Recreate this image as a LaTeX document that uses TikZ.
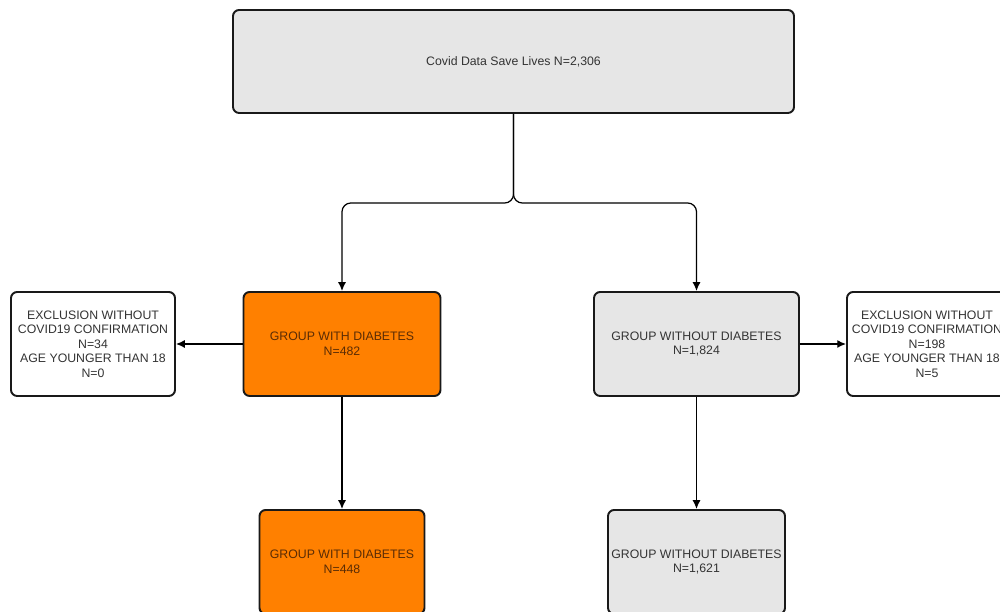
\documentclass[tikz,border=0pt]{standalone}
\usepackage{fontspec}
\setmainfont{Liberation Sans}
\usetikzlibrary{arrows.meta}
\definecolor{dborange}{HTML}{FF8000}
\definecolor{dbgray}{HTML}{E6E6E6}
\definecolor{dbtext}{HTML}{333333}
\definecolor{dbbrown}{HTML}{5A2C05}

\begin{document}
\begin{tikzpicture}[>={Latex[length=5pt,width=4.5pt]}, line width=0.7pt,
	box/.style={draw=black!90, line width=1.1pt, rounded corners=3.5pt, align=center,
		inner sep=0pt, text=dbtext, font=\fontsize{7}{8.5}\selectfont, minimum height=2.08cm},
	grpwith/.style={box, fill=dborange, text=dbbrown},
	grpwithout/.style={box, fill=dbgray},
	exclbox/.style={box, fill=white, font=\fontsize{7}{8.2}\selectfont}]
	\useasboundingbox (0,0) rectangle (20,12.24);
	% 总样本
	\node[grpwithout, minimum width=11.22cm, minimum height=2.06cm] (total) at (10.27,11.01) {Covid Data Save Lives N=2,306};
	% 第一层分组
	\node[grpwith, minimum width=3.94cm] (diab) at (6.84,5.36) {GROUP WITH DIABETES\\N=482};
	\node[grpwithout, minimum width=4.1cm] (nodiab) at (13.93,5.36) {GROUP WITHOUT DIABETES\\N=1,824};
	% 排除
	\node[exclbox, minimum width=3.28cm] (exdiab) at (1.86,5.36) {EXCLUSION WITHOUT\\COVID19 CONFIRMATION\\N=34\\AGE YOUNGER THAN 18\\N=0};
	\node[exclbox, minimum width=3.2cm] (exnodiab) at (18.54,5.36) {EXCLUSION WITHOUT\\COVID19 CONFIRMATION\\N=198\\AGE YOUNGER THAN 18\\N=5};
	% 最终分组
	\node[grpwith, minimum width=3.3cm] (diabfin) at (6.84,1.0) {GROUP WITH DIABETES\\N=448};
	\node[grpwithout, minimum width=3.54cm] (nodiabfin) at (13.93,1.0) {GROUP WITHOUT DIABETES\\N=1,621};
	% 连线
	\coordinate (split) at (10.27,8.18);
	\draw[->, rounded corners=5pt] (total.south) -- (split) -| (diab.north);
	\draw[->, rounded corners=5pt] (total.south) -- (split) -| (nodiab.north);
	\draw[->] (diab.west) -- (exdiab.east);
	\draw[->] (nodiab.east) -- (exnodiab.west);
	\draw[->] (diab.south) -- (diabfin.north);
	\draw[->] (nodiab.south) -- (nodiabfin.north);
\end{tikzpicture}
\end{document}
